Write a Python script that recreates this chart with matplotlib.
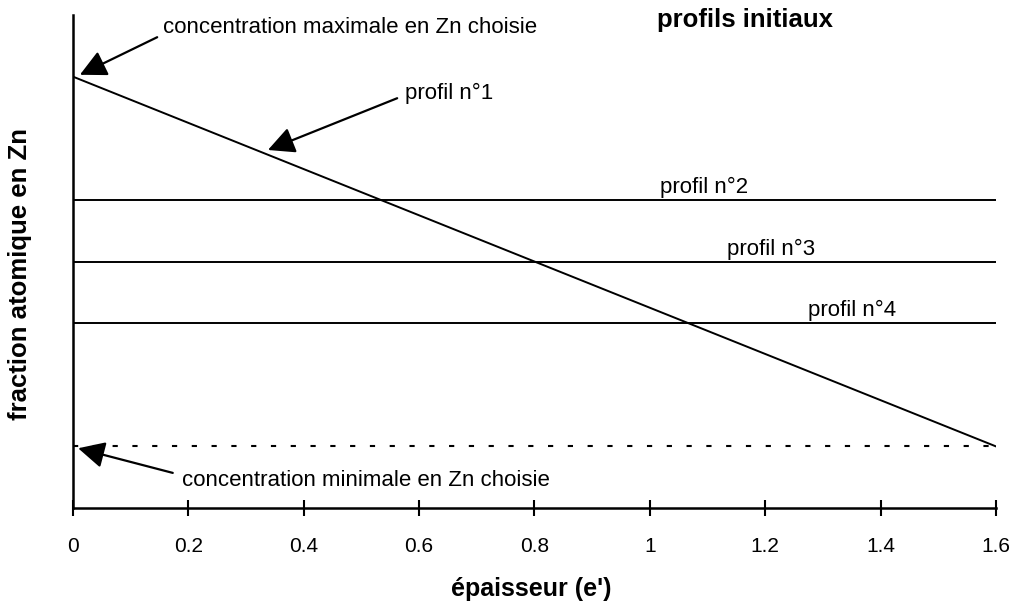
import matplotlib
matplotlib.use("Agg")
import matplotlib.pyplot as plt

plt.rcParams['font.family'] = ['Liberation Sans', 'DejaVu Sans']

# Thickness axis (e') and initial Zn profiles
thickness = [0.0, 1.6]
profil1 = [7.0, 1.0]          # linear profile from max to min concentration
profil2 = [5.0, 5.0]
profil3 = [4.0, 4.0]
profil4 = [3.0, 3.0]
c_min = [1.0, 1.0]            # minimum chosen Zn concentration

x_ticks = [0, 0.2, 0.4, 0.6, 0.8, 1.0, 1.2, 1.4, 1.6]
x_tick_labels = ['0', '0.2', '0.4', '0.6', '0.8', '1', '1.2', '1.4', '1.6']

fig = plt.figure(figsize=(10.19, 6.01), dpi=100)
ax = fig.add_axes([0.0716, 0.1547, 0.9058, 0.8203])

lw = 1.4
ax.plot(thickness, profil1, color='black', lw=lw)
ax.plot(thickness, profil2, color='black', lw=lw)
ax.plot(thickness, profil3, color='black', lw=lw)
ax.plot(thickness, profil4, color='black', lw=lw)
ax.plot(thickness, c_min, color='black', lw=1.5, linestyle=(0, (2.5, 7)))

ax.set_xlim(0, 1.6)
ax.set_ylim(0, 8)
ax.set_xticks(x_ticks)
ax.set_xticklabels(x_tick_labels, fontsize=15)
ax.set_yticks([])
ax.tick_params(axis='x', direction='inout', length=12, width=1.5, pad=15)
for side in ('top', 'right'):
    ax.spines[side].set_visible(False)
for side in ('left', 'bottom'):
    ax.spines[side].set_linewidth(1.8)
ax.patch.set_visible(False)

ax.set_xlabel("épaisseur (e')", fontsize=18, fontweight='bold')
ax.xaxis.set_label_coords(0.497, -0.140)
ax.set_ylabel("fraction atomique en Zn", fontsize=18.5, fontweight='bold')
ax.yaxis.set_label_coords(-0.0574, 0.4746)
ax.yaxis.label.set_va('center')

fig.text(0.731, 0.967, "profils initiaux", fontsize=18.5, fontweight='bold',
         ha='center', va='center')

arrow_kw = dict(arrowstyle='-|>,head_length=0.9,head_width=0.45',
                color='black', lw=1.6, mutation_scale=18,
                shrinkA=0, shrinkB=0)

# Annotations with arrows
ax.annotate("", xy=(0.012, 7.03), xytext=(0.146, 7.64), arrowprops=arrow_kw)
ax.text(0.156, 7.79, "concentration maximale en Zn choisie", fontsize=16,
        ha='left', va='center')

ax.annotate("", xy=(0.338, 5.81), xytext=(0.562, 6.65), arrowprops=arrow_kw)
ax.text(0.5755, 6.73, "profil n°1", fontsize=16, ha='left', va='center')

ax.annotate("", xy=(0.009, 0.97), xytext=(0.173, 0.57), arrowprops=arrow_kw)
ax.text(0.189, 0.44, "concentration minimale en Zn choisie", fontsize=16,
        ha='left', va='center')

ax.text(1.0175, profil2[0] + 0.03, "profil n°2", fontsize=16, ha='left', va='bottom')
ax.text(1.1337, profil3[0] + 0.03, "profil n°3", fontsize=16, ha='left', va='bottom')
ax.text(1.274, profil4[0] + 0.03, "profil n°4", fontsize=16, ha='left', va='bottom')

fig.savefig("out.png", dpi=100)
